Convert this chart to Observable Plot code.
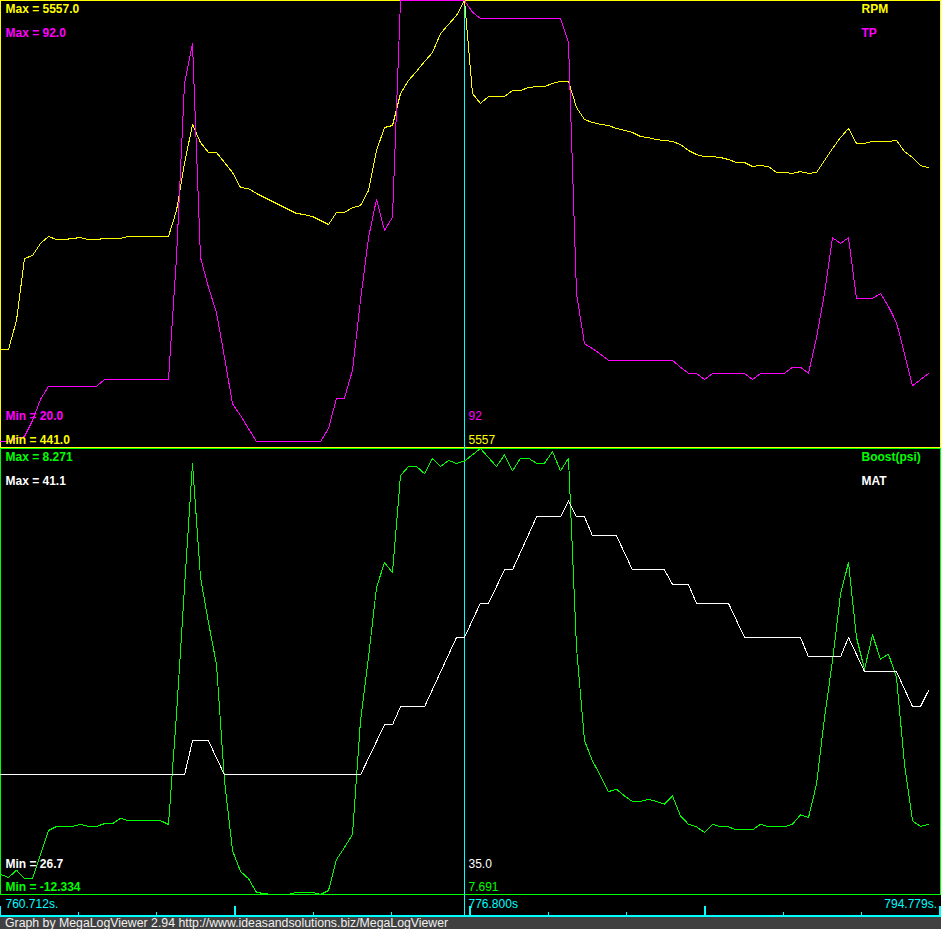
<!DOCTYPE html>
<html>
<head>
<meta charset="utf-8">
<script src="https://cdn.jsdelivr.net/npm/d3@7"></script>
<script src="https://cdn.jsdelivr.net/npm/@observablehq/plot@0.6"></script>
<style>
html, body { margin: 0; padding: 0; background: #000; }
#chart { width: 941px; }
#chart svg { display: block; }
.caption {
  width: 936px; height: 12px; padding-left: 5px; background: #404040; color: #f0f0f0;
  font: 12.3px "Liberation Sans", Arial, sans-serif; line-height: 12px; white-space: nowrap; overflow: hidden;
}
</style>
</head>
<body>
<div id="chart"></div>
<script>
// ---- data (one value per log record, 117 records) ----
const rpm = [
  1554,1554,1886,2597,2632,2770,2850,2815,2815,2827,
  2838,2815,2815,2827,2827,2827,2850,2850,2850,2850,
  2850,2850,3148,3687,4135,3928,3813,3813,3699,3584,
  3412,3400,3343,3297,3251,3205,3160,3114,3102,3079,
  3033,2987,3125,3125,3182,3205,3377,3836,4100,4123,
  4490,4639,4743,4857,4960,5178,5282,5385,5557,4490,
  4376,4456,4456,4456,4525,4525,4559,4570,4570,4605,
  4628,4628,4330,4192,4158,4135,4123,4089,4066,4043,
  3997,3985,3962,3951,3940,3905,3836,3790,3767,3767,
  3756,3733,3699,3699,3653,3664,3653,3584,3584,3573,
  3595,3573,3584,3722,3859,3985,4089,3917,3917,3940,
  3940,3940,3951,3825,3756,3664,3641
];
const tp = [
  20.8,20.8,21.3,21.6,24.2,27.6,29.7,29.7,29.7,29.7,
  29.7,29.7,29.7,30.8,30.8,30.8,30.8,30.8,30.8,30.8,
  30.8,30.8,50.5,78.6,85.1,50.5,45.7,41.6,34.4,26.9,
  25.0,22.9,20.8,20.8,20.8,20.8,20.8,20.8,20.8,20.8,
  20.8,22.9,27.8,27.8,32.3,43.6,53.7,59.9,54.9,57.0,
  92,92,92,92,92,92,92,92,92,90.1,
  89.1,89.1,89.1,89.1,89.1,89.1,89.1,89.1,89.1,89.1,
  89.1,85.2,44.7,36.6,35.8,34.9,33.9,33.9,33.9,33.9,
  33.9,33.9,33.9,33.9,33.9,32.8,31.8,31.8,30.8,31.8,
  31.8,31.8,31.8,31.8,30.8,31.8,31.8,31.8,31.8,32.8,
  32.8,31.8,37.6,44.7,53.7,52.8,53.7,43.9,43.9,43.9,
  44.7,42.6,40.0,35.0,29.8,30.8,31.8
];
const boost = [
  -11.40,-11.55,-11.21,-11.60,-11.60,-10.49,-9.38,-9.19,-9.19,-9.19,
  -9.10,-9.19,-9.19,-9.06,-9.06,-8.82,-8.92,-8.92,-8.92,-8.92,
  -8.92,-9.10,-4.02,1.85,7.58,2.31,0.23,-1.71,-7.07,-10.30,
  -11.27,-11.60,-12.24,-12.29,-12.334,-12.334,-12.334,-12.24,-12.24,-12.24,
  -12.334,-12.15,-10.72,-10.16,-9.56,-4.30,-1.39,1.85,3.00,2.54,
  7.02,7.44,7.44,7.11,7.81,7.44,7.72,7.58,7.691,7.98,
  8.271,7.85,7.44,7.98,7.24,7.82,7.82,7.59,7.59,8.12,
  7.24,7.82,-0.92,-5.23,-6.16,-6.85,-7.58,-7.47,-7.78,-8.04,
  -8.04,-7.93,-8.04,-8.16,-7.78,-8.70,-9.09,-9.21,-9.47,-9.09,
  -9.21,-9.21,-9.35,-9.35,-9.35,-9.09,-9.21,-9.21,-9.21,-9.09,
  -8.65,-8.78,-7.24,-4.16,-1.54,1.54,3.00,-0.46,-1.93,-0.34,
  -1.46,-1.23,-2.31,-6.32,-8.93,-9.19,-9.09
];
const mat = [
  30.56,30.56,30.56,30.56,30.56,30.56,30.56,30.56,30.56,30.56,
  30.56,30.56,30.56,30.56,30.56,30.56,30.56,30.56,30.56,30.56,
  30.56,30.56,30.56,30.56,31.66,31.66,31.66,31.11,30.56,30.56,
  30.56,30.56,30.56,30.56,30.56,30.56,30.56,30.56,30.56,30.56,
  30.56,30.56,30.56,30.56,30.56,30.56,31.10,31.64,32.18,32.18,
  32.76,32.76,32.76,32.76,33.32,33.88,34.44,35.0,35.0,35.56,
  36.11,36.11,36.64,37.18,37.18,37.75,38.32,38.89,38.89,38.89,
  38.89,39.41,38.89,38.89,38.28,38.28,38.28,38.28,37.73,37.18,
  37.18,37.18,37.18,37.18,36.71,36.71,36.71,36.10,36.10,36.10,
  36.10,36.10,35.55,35.0,35.0,35.0,35.0,35.0,35.0,35.0,
  35.0,34.37,34.37,34.37,34.37,34.37,35.0,34.45,33.90,33.90,
  33.90,33.90,33.90,33.33,32.77,32.77,33.28
];
const seriesNames = ["RPM", "TP", "Boost(psi)", "MAT"];
const seriesMin = [441.0, 20.0, -12.334, 26.7];
const seriesMax = [5557.0, 92.0, 8.271, 41.1];
const timeLabels = ["760.712s.", "776.800s", "794.779s."];
const cursorIndex = 58;
const captionText = "Graph by MegaLogViewer 2.94 http://www.ideasandsolutions.biz/MegaLogViewer";

// ---- styling ----
const FONT = '"Liberation Sans", Arial, sans-serif';
const YELLOW = "#ffff00", MAGENTA = "#ff00ff", GREEN = "#00ff00", WHITE = "#ffffff", CYAN = "#00ffff";

const samples = rpm.map((r, i) => ({i, RPM: r, TP: tp[i], "Boost(psi)": boost[i], MAT: mat[i]}));
// Plot shifts lines/rules/frames by +0.5px, so ranges start on whole pixels
const xDomain = [0, 117.5];
const xRange = [0, 940];

function series(idx, color, digits, cursorDigits) {
  return {key: seriesNames[idx], min: seriesMin[idx], max: seriesMax[idx], color, digits, cursorDigits};
}

function lbl(text, fill, dx, dy, bold, anchor = "top-left") {
  return Plot.text([text], {
    text: d => d, frameAnchor: anchor, textAnchor: anchor === "top-right" ? "end" : "start",
    lineAnchor: "top", dx, dy, fill, fontWeight: bold ? "bold" : "normal",
    fontSize: 12, fontFamily: FONT
  });
}

function panel(h, border, a, b, minADy) {
  const norm = s => d => (d[s.key] - s.min) / (s.max - s.min);
  const cur = samples[cursorIndex];
  return Plot.plot({
    width: 941, height: h, margin: 0,
    x: {domain: xDomain, range: xRange, axis: null},
    y: {domain: [0, 1], range: [446, 0], axis: null},
    style: {background: "#000"},
    marks: [
      Plot.frame({stroke: border, insetLeft: 0, insetTop: 0, insetRight: 1, insetBottom: 1, shapeRendering: "crispEdges"}),
      Plot.ruleX([cursorIndex], {stroke: CYAN, strokeWidth: 1, shapeRendering: "crispEdges"}),
      Plot.line(samples, {x: "i", y: norm(a), stroke: a.color, strokeWidth: 1, shapeRendering: "crispEdges"}),
      Plot.line(samples, {x: "i", y: norm(b), stroke: b.color, strokeWidth: 1, shapeRendering: "crispEdges"}),
      lbl(`Max = ${a.max.toFixed(a.digits)}`, a.color, 5, 3.5, true),
      lbl(`Max = ${b.max.toFixed(b.digits)}`, b.color, 5, 27.5, true),
      lbl(a.key, a.color, 861, 3.5, true),
      lbl(b.key, b.color, 861, 27.5, true),
      lbl(`Min = ${b.min.toFixed(b.digits)}`, b.color, 5, 410.5, true),
      lbl(`Min = ${a.min.toFixed(a.digits)}`, a.color, 5, minADy, true),
      lbl(cur[b.key].toFixed(b.cursorDigits), b.color, 468, 410.5, false),
      lbl(cur[a.key].toFixed(a.cursorDigits), a.color, 468, minADy, false)
    ]
  });
}

const chart = document.getElementById("chart");
chart.append(panel(448, YELLOW, series(0, YELLOW, 1, 0), series(1, MAGENTA, 1, 0), 434.5));
chart.append(panel(447, GREEN, series(2, GREEN, 3, 3), series(3, WHITE, 1, 1), 433.5));

// time strip with tick marks at twelfths of the span
const tickFractions = d3.range(13).map(j => j / 12);
const tickIdx = f => (f * 940 - 0.5) / 8;
chart.append(Plot.plot({
  width: 941, height: 22, margin: 0,
  x: {domain: xDomain, range: xRange, axis: null},
  y: {domain: [0, 1], range: [22, 11], axis: null},
  style: {background: "#000"},
  marks: [
    Plot.frame({anchor: "bottom", stroke: CYAN, strokeWidth: 2, insetBottom: 1.5, shapeRendering: "crispEdges"}),
    Plot.ruleX(tickFractions.filter((f, j) => j % 3 !== 0), {x: tickIdx, y1: 0, y2: 0.5, stroke: CYAN, strokeWidth: 1, shapeRendering: "crispEdges"}),
    Plot.ruleX(tickFractions.filter((f, j) => j % 3 === 0), {x: tickIdx, y1: 0, y2: 1, stroke: CYAN, strokeWidth: 2, shapeRendering: "crispEdges"}),
    Plot.ruleX([cursorIndex], {stroke: CYAN, strokeWidth: 1, shapeRendering: "crispEdges"}),
    lbl(timeLabels[0], CYAN, 5, 3.5, false),
    lbl(timeLabels[1], CYAN, 468, 3.5, false),
    lbl(timeLabels[2], CYAN, -4.5, 3.5, false, "top-right")
  ]
}));

const cap = document.createElement("div");
cap.className = "caption";
cap.textContent = captionText;
chart.append(cap);
</script>
</body>
</html>
